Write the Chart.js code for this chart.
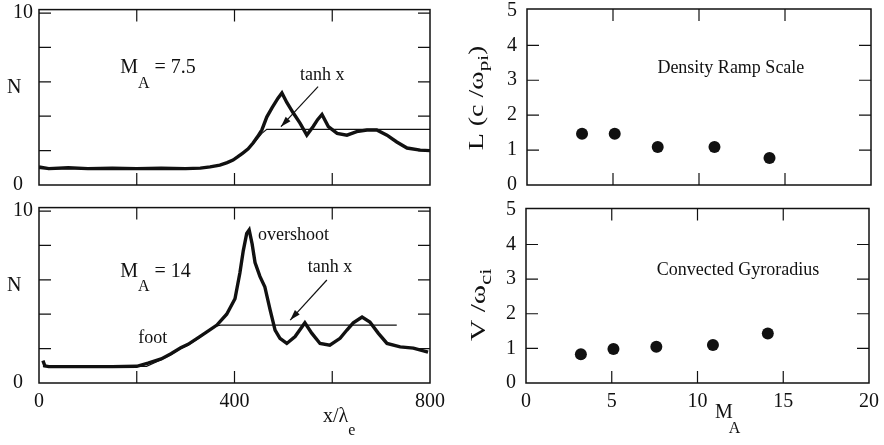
<!DOCTYPE html>
<html>
<head>
<meta charset="utf-8">
<script src="https://cdn.jsdelivr.net/npm/chart.js@4.4.1/dist/chart.umd.min.js"></script>
<style>
  html, body { margin: 0; padding: 0; background: #fff; overflow: hidden; width: 884px; height: 445px; position: relative; }
  canvas { position: absolute; }
</style>
</head>
<body>
<canvas id="densLow" width="470" height="250" style="left:0;top:-30px"></canvas>
<canvas id="densHigh" width="470" height="275" style="left:0;top:170px"></canvas>
<canvas id="rampChart" width="470" height="250" style="left:440px;top:-30px"></canvas>
<canvas id="gyroChart" width="470" height="275" style="left:440px;top:170px"></canvas>
<script>
// --- DATA ---
// M_A = 7.5 density profile, x / lambda_e vs N
const xLow = [0, 20, 60, 100, 150, 200, 250, 300, 330, 350, 370, 385, 397, 407, 417, 428, 438, 447, 456, 466, 477, 489, 497, 507, 520, 534, 548, 561, 570, 579, 592, 610, 630, 650, 671, 691, 712, 732, 753, 780, 800];
const nLow = [1.05, 0.95, 1.0, 0.95, 0.97, 0.95, 0.97, 0.95, 0.98, 1.05, 1.16, 1.3, 1.45, 1.65, 1.86, 2.1, 2.44, 2.8, 3.2, 3.95, 4.5, 5.05, 5.35, 4.8, 4.2, 3.6, 2.9, 3.4, 3.8, 4.1, 3.4, 3.0, 2.9, 3.1, 3.2, 3.2, 2.9, 2.5, 2.15, 2.03, 2.0];
const xTanhLow = [0, 330, 370, 400, 420, 440, 456, 466, 800];
const nTanhLow = [0.95, 0.97, 1.15, 1.5, 1.9, 2.45, 3.0, 3.24, 3.24];

// M_A = 14 density profile
const xHigh = [8, 12, 20, 50, 100, 150, 200, 223, 250, 270, 290, 305, 329, 345, 364, 384, 401, 411, 418, 425, 430, 436, 442, 452, 462, 473, 483, 493, 507, 524, 544, 558, 575, 595, 616, 630, 643, 661, 677, 694, 712, 739, 766, 796];
const nHigh = [1.3, 1.0, 0.95, 0.95, 0.95, 0.95, 0.97, 1.15, 1.4, 1.7, 2.05, 2.25, 2.7, 3.0, 3.37, 4.0, 4.9, 6.4, 7.7, 8.7, 8.9, 8.1, 7.0, 6.2, 5.6, 4.24, 3.08, 2.6, 2.3, 2.7, 3.5, 2.9, 2.3, 2.2, 2.6, 3.08, 3.5, 3.84, 3.55, 2.9, 2.3, 2.1, 2.03, 1.8];
const xTanhHigh = [8, 220, 250, 270, 290, 305, 329, 345, 360, 372, 732];
const nTanhHigh = [0.95, 0.97, 1.35, 1.65, 2.0, 2.2, 2.65, 3.0, 3.3, 3.37, 3.37];

// right panels
const machNumbers = [3.2, 5.1, 7.6, 10.9, 14.1];
const rampScale = [1.47, 1.47, 1.09, 1.09, 0.77];
const gyroRadius = [0.83, 0.98, 1.05, 1.1, 1.43];

// ticks
const xTicksLeft = [0, 200, 400, 600, 800];
const xLabelsLeft = [0, 400, 800];
const yTicksLeft = [0, 2, 4, 6, 8, 10];
const yLabelsLeft = [0, 10];
const xTicksRight = [0, 5, 10, 15, 20];
const yTicksRight = [0, 1, 2, 3, 4, 5];

// --- STYLE ---
const FONT = '"Liberation Serif", "Times New Roman", serif';
const INK = '#111';
const TICK = 12;

const pts = (xs, ys) => xs.map((v, i) => ({ x: v, y: ys[i] }));

// frame + inward ticks on all four sides
const boxPlugin = {
  id: 'box',
  afterDatasetsDraw(chart) {
    const { ctx, chartArea: a, scales: { x, y } } = chart;
    ctx.save();
    ctx.strokeStyle = INK;
    ctx.lineWidth = 1.5;
    ctx.strokeRect(a.left, a.top, a.right - a.left, a.bottom - a.top);
    ctx.lineWidth = 1.2;
    ctx.beginPath();
    x.ticks.forEach(t => {
      const p = x.getPixelForValue(t.value);
      if (p - a.left < 2 || a.right - p < 2) return;
      ctx.moveTo(p, a.bottom); ctx.lineTo(p, a.bottom - TICK);
      ctx.moveTo(p, a.top); ctx.lineTo(p, a.top + TICK);
    });
    y.ticks.forEach(t => {
      const p = y.getPixelForValue(t.value);
      if (p - a.top < 2 || a.bottom - p < 2) return;
      ctx.moveTo(a.left, p); ctx.lineTo(a.left + TICK, p);
      ctx.moveTo(a.right, p); ctx.lineTo(a.right - TICK, p);
    });
    ctx.stroke();
    ctx.restore();
  }
};

function partsWidth(ctx, parts) {
  let w = 0;
  parts.forEach(p => { ctx.font = p.size + 'px ' + FONT; w += (p.dx || 0) + ctx.measureText(p.t).width; });
  return w;
}
function drawParts(ctx, parts, x, y) {
  let cx = x;
  parts.forEach(p => {
    ctx.font = p.size + 'px ' + FONT;
    cx += p.dx || 0;
    ctx.fillText(p.t, cx, y + (p.dy || 0));
    cx += ctx.measureText(p.t).width;
  });
}

// annotations, axis titles with subscripts, arrows (items kept in a closure)
function notesPlugin(items) {
  return {
    id: 'notes',
    afterDraw(chart) {
      const { ctx, chartArea: a, scales: { x, y } } = chart;
      ctx.save();
      ctx.fillStyle = INK;
      ctx.strokeStyle = INK;
      ctx.textAlign = 'left';
      ctx.textBaseline = 'alphabetic';
      items.forEach(it => {
        if (it.arrow) {
          const [p0, p1] = it.arrow;
          const x0 = x.getPixelForValue(p0[0]), y0 = y.getPixelForValue(p0[1]);
          const x1 = x.getPixelForValue(p1[0]), y1 = y.getPixelForValue(p1[1]);
          const ang = Math.atan2(y1 - y0, x1 - x0);
          ctx.lineWidth = 1.2;
          ctx.beginPath(); ctx.moveTo(x0, y0); ctx.lineTo(x1, y1); ctx.stroke();
          ctx.beginPath();
          ctx.moveTo(x1, y1);
          ctx.lineTo(x1 - 11 * Math.cos(ang - 0.3), y1 - 11 * Math.sin(ang - 0.3));
          ctx.lineTo(x1 - 11 * Math.cos(ang + 0.3), y1 - 11 * Math.sin(ang + 0.3));
          ctx.closePath(); ctx.fill();
          return;
        }
        if (it.rot) {
          const w = partsWidth(ctx, it.parts);
          ctx.save();
          ctx.translate(a.left + it.off[0], (a.top + a.bottom) / 2 + it.off[1]);
          ctx.rotate(-Math.PI / 2);
          ctx.scale(it.stretch || 1, 1);
          drawParts(ctx, it.parts, -w / 2, 0);
          ctx.restore();
          return;
        }
        let px, py;
        if (it.at) { px = x.getPixelForValue(it.at[0]); py = y.getPixelForValue(it.at[1]); }
        else { px = a.left + it.off[0]; py = (it.fromTop ? a.top : a.bottom) + it.off[1]; }
        drawParts(ctx, it.parts, px, py);
      });
      ctx.restore();
    }
  };
}

// geometry: canvas box (cx, cy, cw, ch) and plot area in page pixels
function layoutFor(g) {
  return {
    padding: { left: g.padLeft, top: g.T - g.cy, right: g.cx + g.cw - g.R, bottom: 0 },
    yWidth: g.L - g.cx - g.padLeft,
    xHeight: g.cy + g.ch - g.B
  };
}

function makeChart(id, g, type, datasets, sc, items) {
  const lay = layoutFor(g);
  const tickFont = { family: FONT, size: 20 };
  return new Chart(document.getElementById(id), {
    type: type,
    data: { datasets: datasets },
    plugins: [boxPlugin, notesPlugin(items)],
    options: {
      responsive: false,
      animation: false,
      events: [],
      layout: { padding: lay.padding },
      plugins: { legend: { display: false }, tooltip: { enabled: false } },
      scales: {
        x: {
          type: 'linear', min: sc.xMin, max: sc.xMax,
          grid: { display: false, drawTicks: false }, border: { display: false },
          afterBuildTicks: s => { s.ticks = sc.xTicks.map(v => ({ value: v })); },
          afterFit: s => { s.height = lay.xHeight; },
          ticks: {
            autoSkip: false, maxRotation: 0, padding: 7, color: INK, font: tickFont,
            callback: v => (sc.xLabels.includes(v) ? String(v) : '')
          }
        },
        y: {
          type: 'linear', min: 0, max: sc.yMax,
          grid: { display: false, drawTicks: false }, border: { display: false },
          afterBuildTicks: s => { s.ticks = sc.yTicks.map(v => ({ value: v })); },
          afterFit: s => { s.width = lay.yWidth; },
          ticks: {
            autoSkip: false, padding: sc.yPad, crossAlign: sc.yAlign, color: INK, font: tickFont,
            callback: v => (sc.yLabels.includes(v) ? String(v) : '')
          }
        }
      }
    }
  });
}

const lineSet = (xs, ys, w) => ({
  data: pts(xs, ys), borderColor: INK, borderWidth: w, pointRadius: 0, tension: 0, fill: false
});
const dotSet = (xs, ys) => ({
  data: pts(xs, ys), backgroundColor: INK, borderWidth: 0, pointRadius: 6
});

const leftScale = (labels) => ({
  xMin: 0, xMax: 800, xTicks: xTicksLeft, xLabels: labels,
  yMax: 10.2, yTicks: yTicksLeft, yLabels: yLabelsLeft, yPad: 7, yAlign: 'far'
});
const rightScale = (labels) => ({
  xMin: 0, xMax: 20, xTicks: xTicksRight, xLabels: labels,
  yMax: 5.04, yTicks: yTicksRight, yLabels: yTicksRight, yPad: 10, yAlign: 'near'
});

// --- TOP LEFT: M_A = 7.5 ---
makeChart('densLow',
  { cx: 0, cy: -30, cw: 470, ch: 250, padLeft: 13, L: 39, T: 9.6, R: 430, B: 185 },
  'line',
  [lineSet(xTanhLow, nTanhLow, 1.2), lineSet(xLow, nLow, 3.4)],
  leftScale([]),
  [
    { parts: [{ t: 'N', size: 20 }], off: [-32, 83.4], fromTop: true },
    { parts: [{ t: 'M', size: 20 }, { t: 'A', size: 16, dy: 15 }, { t: ' = 7.5', size: 20 }], at: [166, 6.51] },
    { parts: [{ t: 'tanh x', size: 18 }], at: [534, 6.1] },
    { arrow: [[571, 5.72], [495, 3.39]] }
  ]);

// --- BOTTOM LEFT: M_A = 14 ---
makeChart('densHigh',
  { cx: 0, cy: 170, cw: 470, ch: 275, padLeft: 13, L: 39, T: 207.6, R: 430, B: 383 },
  'line',
  [lineSet(xTanhHigh, nTanhHigh, 1.2), lineSet(xHigh, nHigh, 3.4)],
  leftScale(xLabelsLeft),
  [
    { parts: [{ t: 'N', size: 20 }], off: [-32, 83.4], fromTop: true },
    { parts: [{ t: 'M', size: 20 }, { t: 'A', size: 16, dy: 14 }, { t: ' = 14', size: 20 }], at: [166, 6.16] },
    { parts: [{ t: 'overshoot', size: 18 }], at: [448, 8.31] },
    { parts: [{ t: 'tanh x', size: 18 }], at: [550, 6.47] },
    { parts: [{ t: 'foot', size: 18 }], at: [203, 2.33] },
    { arrow: [[589, 5.99], [514, 3.66]] },
    { parts: [{ t: 'x/\u03bb', size: 20 }, { t: 'e', size: 16, dy: 13 }], off: [284, 39] }
  ]);

// --- TOP RIGHT: density ramp scale ---
makeChart('rampChart',
  { cx: 440, cy: -30, cw: 470, ch: 250, padLeft: 0, L: 527, T: 9, R: 871, B: 185 },
  'scatter',
  [dotSet(machNumbers, rampScale)],
  rightScale([]),
  [
    { parts: [{ t: 'Density Ramp Scale', size: 18 }], at: [7.58, 3.2] },
    { rot: true, stretch: 1.4, off: [-44, 1],
      parts: [{ t: 'L (c /\u03c9', size: 20 }, { t: 'pi', size: 15, dy: 5 }, { t: ')', size: 20 }] }
  ]);

// --- BOTTOM RIGHT: convected gyroradius ---
makeChart('gyroChart',
  { cx: 440, cy: 170, cw: 470, ch: 275, padLeft: 0, L: 526, T: 208.5, R: 869, B: 383 },
  'scatter',
  [dotSet(machNumbers, gyroRadius)],
  rightScale(xTicksRight),
  [
    { parts: [{ t: 'Convected Gyroradius', size: 18 }], at: [7.62, 3.12] },
    { rot: true, stretch: 1.4, off: [-41, 9],
      parts: [{ t: 'V /\u03c9', size: 21 }, { t: 'ci', size: 16, dy: 6 }] },
    { parts: [{ t: 'M', size: 20 }, { t: 'A', size: 16, dy: 15, dx: -4 }], off: [189, 35] }
  ]);
</script>
</body>
</html>
